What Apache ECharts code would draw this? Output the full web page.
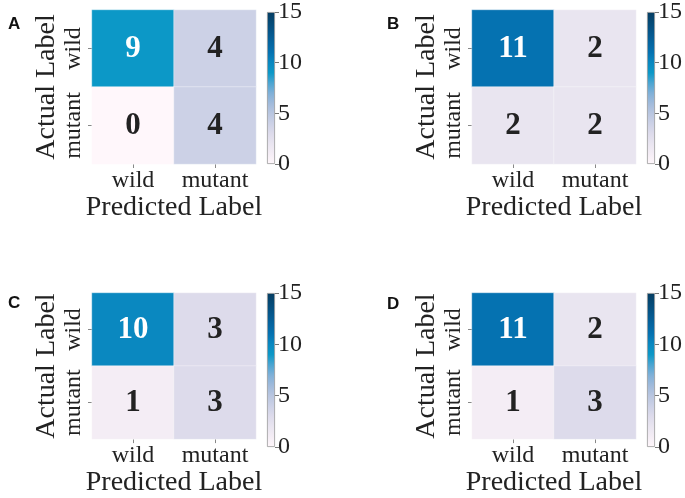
<!DOCTYPE html>
<html>
<head>
<meta charset="utf-8">
<script src="https://cdn.jsdelivr.net/npm/echarts@6/dist/echarts.min.js"></script>
<style>
html,body{margin:0;padding:0;background:#fff;}
#chart{width:685px;height:498px;}
</style>
</head>
<body>
<div id="chart"></div>
<script>
// ---- data ----
const categories = ['wild', 'mutant'];
const panelLetters = ['A', 'B', 'C', 'D'];
const matrixA = [[9, 4], [0, 4]];
const matrixB = [[11, 2], [2, 2]];
const matrixC = [[10, 3], [1, 3]];
const matrixD = [[11, 2], [1, 3]];
const colorbarTicks = [0, 5, 10, 15];
const valueMin = 0;
const valueMax = 15;

const matrices = [matrixA, matrixB, matrixC, matrixD];

// colormap (PuBu-like), evenly spaced from valueMin to valueMax
const cmap = ['#fff7fb', '#f4edf5', '#e9e5f0', '#dddbeb', '#ccd1e6', '#b9c6e0', '#a0badb', '#7fb0d8',
              '#4ba5d2', '#0c98c7', '#0a88c0', '#0572b1', '#05649f', '#05568b', '#054a76', '#063d62'];

const serif = 'Liberation Serif, Times New Roman, serif';
const txt = '#222222';

const layouts = [
  {left: 92, top: 10, cbLeft: 267, tl: 3, tt: 11},
  {left: 472, top: 10, cbLeft: 647, tl: 382, tt: 11},
  {left: 92, top: 293, cbLeft: 267, tl: 3, tt: 290},
  {left: 472, top: 293, cbLeft: 647, tl: 382, tt: 291}
];
const W = 164, H = 154;

const grid = [], xAxis = [], yAxis = [], series = [], visualMap = [], title = [];

layouts.forEach((L, i) => {
  // heatmap grid
  const hi = grid.length;
  grid.push({left: L.left, top: L.top, width: W, height: H});
  xAxis.push({
    type: 'category', gridIndex: hi, data: categories,
    axisLine: {show: false},
    axisTick: {show: true, alignWithLabel: true, length: 4, lineStyle: {color: '#888'}},
    axisLabel: {fontFamily: serif, fontSize: 24, color: txt, margin: 5, interval: 0},
    name: 'Predicted Label', nameLocation: 'middle', nameGap: 24,
    nameTextStyle: {fontFamily: serif, fontSize: 28, color: txt},
    splitLine: {show: false}
  });
  yAxis.push({
    type: 'category', gridIndex: hi, data: categories, inverse: true,
    axisLine: {show: false},
    axisTick: {show: true, alignWithLabel: true, length: 4, lineStyle: {color: '#888'}},
    axisLabel: {fontFamily: serif, fontSize: 24, color: txt, rotate: 90, margin: 6, interval: 0, hideOverlap: false},
    name: 'Actual Label', nameLocation: 'middle', nameGap: 30,
    nameTextStyle: {fontFamily: serif, fontSize: 28, color: txt},
    splitLine: {show: false}
  });
  const m = matrices[i];
  const data = [];
  m.forEach((row, r) => row.forEach((v, c) => {
    data.push({value: [c, r, v], label: {color: v > 7 ? '#ffffff' : txt}});
  }));
  series.push({
    type: 'heatmap', xAxisIndex: hi, yAxisIndex: hi, data: data,
    label: {show: true, fontFamily: serif, fontSize: 31, fontWeight: 'bold',
            formatter: p => String(p.value[2])},
    itemStyle: {borderColor: 'rgba(255,255,255,0.6)', borderWidth: 0.6},
    emphasis: {disabled: true}
  });
  visualMap.push({
    show: false, type: 'continuous', seriesIndex: series.length - 1,
    min: valueMin, max: valueMax, dimension: 2, inRange: {color: cmap}
  });

  // colorbar grid
  const gi = grid.length;
  grid.push({left: L.cbLeft, top: L.top, width: 8, height: H});
  xAxis.push({type: 'category', gridIndex: gi, data: [''], show: false});
  yAxis.push({
    type: 'value', gridIndex: gi, min: valueMin, max: valueMax, interval: 5,
    position: 'right',
    axisLine: {show: false},
    axisTick: {show: true, length: 4, lineStyle: {color: '#777'}},
    splitLine: {show: false},
    axisLabel: {fontFamily: serif, fontSize: 24, color: txt, margin: 3,
                customValues: colorbarTicks}
  });
  const stops = cmap.map((c, k) => ({offset: k / (cmap.length - 1), color: c}));
  series.push({
    type: 'bar', xAxisIndex: gi, yAxisIndex: gi, data: [valueMax], barWidth: '100%',
    silent: true,
    itemStyle: {
      color: new echarts.graphic.LinearGradient(0, 1, 0, 0, stops),
      borderColor: '#999', borderWidth: 0.8
    }
  });

  title.push({
    text: panelLetters[i], left: L.tl, top: L.tt,
    textStyle: {fontFamily: 'Liberation Sans, Arial, sans-serif', fontWeight: 'bold', fontSize: 17, color: '#111'}
  });
});

const chart = echarts.init(document.getElementById('chart'));
chart.setOption({
  animation: false,
  backgroundColor: '#fff',
  title, grid, xAxis, yAxis, series, visualMap
});
</script>
</body>
</html>
